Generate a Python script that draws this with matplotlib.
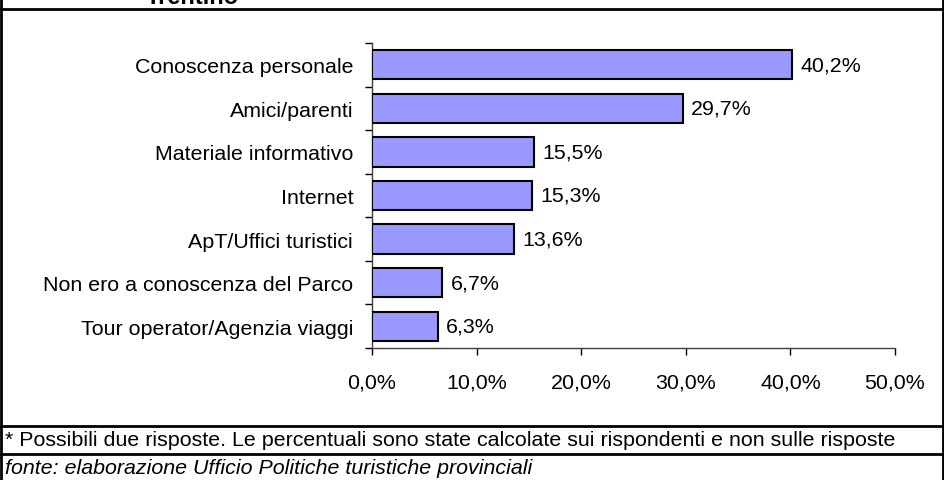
import matplotlib
matplotlib.use("Agg")
import matplotlib.pyplot as plt
from matplotlib.lines import Line2D
from matplotlib.ticker import MultipleLocator, FuncFormatter

plt.rcParams['font.family'] = ['Liberation Sans', 'DejaVu Sans']

categorie = ["Conoscenza personale", "Amici/parenti", "Materiale informativo",
             "Internet", "ApT/Uffici turistici", "Non ero a conoscenza del Parco",
             "Tour operator/Agenzia viaggi"]
valori = [40.2, 29.7, 15.5, 15.3, 13.6, 6.7, 6.3]
titolo = "Trentino"
nota = ("* Possibili due risposte. Le percentuali sono state calcolate "
        "sui rispondenti e non sulle risposte")
fonte = "fonte: elaborazione Ufficio Politiche turistiche provinciali"

W, H = 944, 481
FS = 15.4

fig = plt.figure(figsize=(W / 100, H / 100), dpi=100)
ax = fig.add_axes([372 / W, 1 - 349 / H, 523 / W, 305 / H])

pos = list(range(len(categorie)))
ax.barh(pos, valori, height=0.67, color='#9999FF', edgecolor='black',
        linewidth=1.5, zorder=3)
for y, v in zip(pos, valori):
    ax.text(v + 0.8, y, f"{v:.1f}%".replace('.', ','), va='center',
            ha='left', fontsize=FS)

ax.set_ylim(len(categorie) - 0.5, -0.5)
ax.set_xlim(0, 50)
ax.set_yticks(pos)
ax.set_yticklabels(categorie, fontsize=FS)
ax.set_yticks([p - 0.5 for p in pos] + [len(pos) - 0.5], minor=True)
ax.tick_params(axis='y', which='major', length=0, pad=13.5)
ax.tick_params(axis='y', which='minor', length=5, width=1, direction='out')
ax.xaxis.set_major_locator(MultipleLocator(10))
ax.xaxis.set_major_formatter(FuncFormatter(lambda x, _: f"{x:.1f}%".replace('.', ',')))
ax.tick_params(axis='x', length=5, width=1, direction='out', pad=13, labelsize=FS)
for s in ('top', 'right'):
    ax.spines[s].set_visible(False)
for s in ('left', 'bottom'):
    ax.spines[s].set_linewidth(1)
    ax.spines[s].set_color('#404040')

# cornice e separatori
def hline(y, x0=1, x1=W - 1, lw=2):
    fig.add_artist(Line2D([x0 / W, x1 / W], [1 - y / H, 1 - y / H],
                          color='black', linewidth=lw))

def vline(x, y0, y1, lw=2):
    fig.add_artist(Line2D([x / W, x / W], [1 - y0 / H, 1 - y1 / H],
                          color='black', linewidth=lw))

hline(10)
hline(427)
hline(455)
vline(1, 0, H)
vline(W - 1.5, 0, H)

fig.text(146 / W, 1 - 3.5 / H, titolo, fontsize=17, fontweight='bold',
         ha='left', va='baseline')
fig.text(5 / W, 1 - 441 / H, nota, fontsize=FS, ha='left', va='center')
fig.text(5 / W, 1 - 469 / H, fonte, fontsize=FS, style='italic',
         ha='left', va='center')

fig.savefig("out.png", dpi=100)
